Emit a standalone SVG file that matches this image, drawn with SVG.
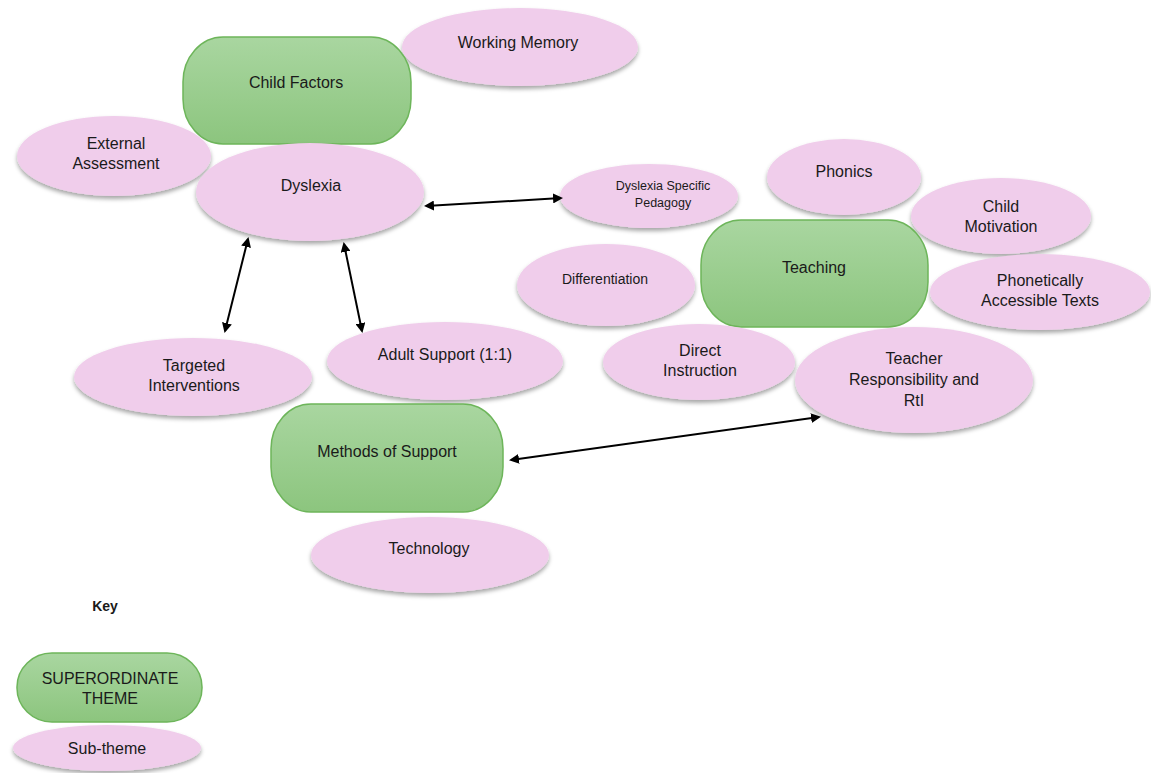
<svg xmlns="http://www.w3.org/2000/svg" width="1151" height="773" viewBox="0 0 1151 773">
<style>
.sub{fill:#f0cdeb;filter:url(#sh)}
.sup{fill:url(#gg);stroke:#6db55a;stroke-width:1.5}
text{font-family:"Liberation Sans",Arial,sans-serif;font-size:16px;fill:#1a1a1a;text-anchor:middle}
.sm{font-size:12.5px}
.md{font-size:14px}
.b{font-weight:bold;font-size:14px}
.con line{stroke:#000;stroke-width:2;marker-start:url(#ah);marker-end:url(#ah)}
</style>
<defs>
<linearGradient id="gg" x1="0" y1="0" x2="0" y2="1">
<stop offset="0" stop-color="#a9d6a0"/>
<stop offset="1" stop-color="#8cc57e"/>
</linearGradient>
<filter id="sh" x="-10%" y="-10%" width="120%" height="130%">
<feDropShadow dx="0" dy="3" stdDeviation="2" flood-color="#000" flood-opacity="0.35"/>
</filter>
<marker id="ah" viewBox="0 0 10 10" refX="8" refY="5" markerWidth="5" markerHeight="5" orient="auto-start-reverse">
<path d="M0,0 L10,5 L0,10 z" fill="#000"/>
</marker>
</defs>
<rect width="1151" height="773" fill="#fff"/>

<g id="working-memory"><ellipse class="sub" cx="520" cy="47" rx="118" ry="39"/><text x="518" y="48">Working Memory</text></g>
<g id="child-factors"><rect class="sup" x="183" y="37" width="228" height="107" rx="40" ry="45"/><text x="296" y="88">Child Factors</text></g>
<g id="external-assessment"><ellipse class="sub" cx="114" cy="156" rx="97" ry="40"/><text x="116" y="149">External</text><text x="116" y="169">Assessment</text></g>
<g id="dyslexia"><ellipse class="sub" cx="310" cy="192" rx="114" ry="49"/><text x="311" y="191">Dyslexia</text></g>
<g id="dsp"><ellipse class="sub" cx="649" cy="196" rx="89" ry="32"/><text class="sm" x="663" y="190">Dyslexia Specific</text><text class="sm" x="663" y="207">Pedagogy</text></g>
<g id="phonics"><ellipse class="sub" cx="844" cy="177" rx="77" ry="38"/><text x="844" y="177">Phonics</text></g>
<g id="child-motivation"><ellipse class="sub" cx="1001" cy="216" rx="90" ry="38"/><text x="1001" y="212">Child</text><text x="1001" y="232">Motivation</text></g>
<g id="teaching"><rect class="sup" x="701" y="220" width="227" height="107" rx="40" ry="45"/><text x="814" y="273">Teaching</text></g>
<g id="differentiation"><ellipse class="sub" cx="606" cy="285" rx="89" ry="41"/><text class="md" x="605" y="284">Differentiation</text></g>
<g id="phonetically"><ellipse class="sub" cx="1040" cy="292" rx="110" ry="38"/><text x="1040" y="286">Phonetically</text><text x="1040" y="306">Accessible Texts</text></g>
<g id="direct-instruction"><ellipse class="sub" cx="699" cy="362" rx="96" ry="38"/><text x="700" y="356">Direct</text><text x="700" y="376">Instruction</text></g>
<g id="teacher-resp"><ellipse class="sub" cx="914" cy="380" rx="119" ry="53"/><text x="914" y="364">Teacher</text><text x="914" y="385">Responsibility and</text><text x="914" y="406">RtI</text></g>
<g id="targeted"><ellipse class="sub" cx="193" cy="377" rx="119" ry="39"/><text x="194" y="371">Targeted</text><text x="194" y="391">Interventions</text></g>
<g id="adult-support"><ellipse class="sub" cx="445" cy="361" rx="118" ry="39"/><text x="445" y="360">Adult Support (1:1)</text></g>
<g id="methods"><rect class="sup" x="271" y="404" width="232" height="108" rx="40" ry="45"/><text x="387" y="457">Methods of Support</text></g>
<g id="technology"><ellipse class="sub" cx="430" cy="555" rx="119" ry="38"/><text x="429" y="554">Technology</text></g>

<g id="connectors" class="con">
<line x1="426" y1="206" x2="561" y2="198"/>
<line x1="248" y1="239" x2="225" y2="331"/>
<line x1="344" y1="244" x2="362" y2="331"/>
<line x1="511" y1="460" x2="819" y2="417"/>
</g>

<g id="key">
<text class="b" x="105" y="611">Key</text>
<rect class="sup" x="17" y="653" width="185" height="69" rx="35" ry="34"/>
<text x="110" y="684">SUPERORDINATE</text><text x="110" y="704">THEME</text>
<ellipse class="sub" cx="107" cy="748" rx="94" ry="23"/>
<text x="107" y="754">Sub-theme</text>
</g>
</svg>
